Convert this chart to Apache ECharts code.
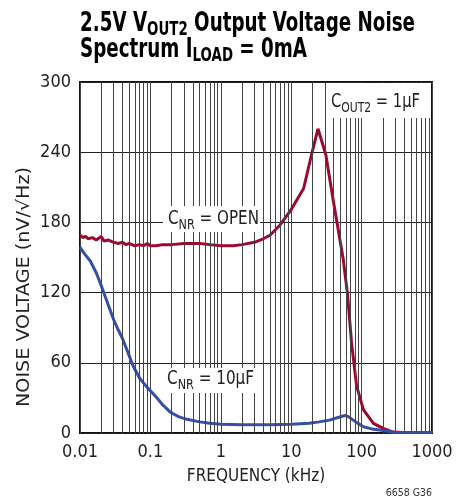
<!DOCTYPE html>
<html><head><meta charset="utf-8">
<script src="https://cdn.jsdelivr.net/npm/echarts@6/dist/echarts.min.js"></script>
<style>html,body{margin:0;padding:0;background:#fff}#c{width:467px;height:501px}</style>
</head><body><div id="c"></div>
<script>
// ---- data ----
const freqOpen = [0.01,0.011,0.012,0.013,0.015,0.017,0.02,0.022,0.025,0.03,0.035,0.04,0.045,0.05,0.06,0.07,0.08,0.09,0.1,0.12,0.15,0.2,0.3,0.5,0.7,1,1.5,2,3,4,5,7,10,15,20,24,31,40,55,63,72,85,106,147,203,280,400,1000];
const noiseOpen = [169,167,168,166,167,165,168,164,165,163,162,163,161,162,160,161,160,162,160,160,161,161,162,162,161,160,160,161,163,166,169,178,191,209,241,260,238,197,148,119,77,40,20,8.3,4,0.8,0.5,0.5];
const freq10u = [0.01,0.011,0.012,0.014,0.017,0.02,0.025,0.03,0.035,0.04,0.05,0.057,0.07,0.09,0.12,0.15,0.19,0.25,0.33,0.5,0.7,1,2,5,10,18,25,35,45,58,65,76,90,106,140,182,280,1000];
const noise10u = [159,155,152,147,137,126,110,97,88,81,66,57,47,39,31,24,18,14,11.7,9.5,8.3,7.5,7,7,7.4,8.3,9.5,11,13,15,14,11,8,5.4,3.5,2.6,0.6,0.5];
const xTickLabels = ['0.01','0.1','1','10','100','1000'];
const yTicks = [0,60,120,180,240,300];
const decades = [0.01,0.1,1,10,100];
const minorMult = [2,3,4,5,6,7,8,9];

const FONT = "'DejaVu Sans Condensed','DejaVu Sans',sans-serif";
const RED = '#9a0a30', BLUE = '#3650a8', GRID = '#444';

const ctx = document.createElement('canvas').getContext('2d');
function w(parts){ // parts: [text,size,bold]
  let s=0; parts.forEach(p=>{ctx.font=(p[2]?'bold ':'')+p[1]+'px '+FONT; s+=ctx.measureText(p[0]).width;}); return s;}

const minorLines = [];
decades.forEach(d => minorMult.forEach(m => minorLines.push({xAxis: +(d*m).toPrecision(6)})));

// title
const T=26, TS=19;
const tRich = {a:{fontFamily:FONT,fontWeight:'bold',fontSize:T,lineHeight:27,verticalAlign:'top'},
               s:{fontFamily:FONT,fontWeight:'bold',fontSize:TS,lineHeight:29,verticalAlign:'bottom'}};
const t1w = w([['2.5V V',T,1],['OUT2',TS,1],[' Output Voltage Noise',T,1]]);
const tScale = 335/t1w;
// annotations
const A=19, AS=14;
const aRich = {a:{fontFamily:FONT,fontSize:A,lineHeight:20,verticalAlign:'top'},
               s:{fontFamily:FONT,fontSize:AS,lineHeight:23,verticalAlign:'bottom'}};
function ann(x,y,main,sub,rest,target){
  const nat = w([[main,A],[sub,AS],[rest,A]]);
  return {type:'group',x:x,y:y,scaleX:target/nat,z:10,children:[{type:'text',x:0,y:0,z:10,style:{
    text:'{a|'+main+'}{s|'+sub+'}{a|'+rest+'}',rich:aRich,fill:'#222'}}]};
}
const YN='NOISE VOLTAGE (nV/√Hz)';
const ynScale = 240/w([[YN,17]]);

const chart = echarts.init(document.getElementById('c'), null, {renderer:'canvas'});
chart.setOption({
  animation:false,
  backgroundColor:'#fff',
  grid:{left:80,right:35,top:82,bottom:68,show:true,borderColor:'#111',borderWidth:2,backgroundColor:'transparent'},
  xAxis:{type:'log',logBase:10,min:0.01,max:1000,
    name:'FREQUENCY (kHz)',nameLocation:'middle',nameGap:35,
    nameTextStyle:{fontFamily:FONT,fontSize:17,color:'#222'},
    axisLine:{show:false},axisTick:{show:false},
    axisLabel:{fontFamily:FONT,fontSize:18,color:'#222',margin:10,
      formatter:v=>{const i=Math.round(Math.log10(v)+2);return xTickLabels[i]!==undefined?xTickLabels[i]:'';}},
    splitLine:{show:true,lineStyle:{color:GRID,width:1}}},
  yAxis:{type:'value',min:0,max:300,interval:60,
    axisLine:{show:false},axisTick:{show:false},
    axisLabel:{fontFamily:FONT,fontSize:18,color:'#222',margin:9,
      formatter:v=>yTicks.includes(v)?String(v):''},
    splitLine:{show:true,lineStyle:{color:'#222',width:1}}},
  series:[
    {type:'line',data:[],z:1,silent:true,
      markLine:{silent:true,symbol:['none','none'],label:{show:false},
        lineStyle:{color:GRID,width:1,type:'solid'},data:minorLines}},
    {type:'line',name:'open',data:freqOpen.map((f,i)=>[f,noiseOpen[i]]),showSymbol:false,z:3,
      lineStyle:{color:RED,width:3}},
    {type:'line',name:'10u',data:freq10u.map((f,i)=>[f,noise10u[i]]),showSymbol:false,z:3,
      lineStyle:{color:BLUE,width:3}}
  ],
  graphic:[
    {type:'group',x:80,y:11,scaleX:tScale,children:[{type:'text',x:0,y:0,style:{
      text:'{a|2.5V V}{s|OUT2}{a| Output Voltage Noise}',rich:tRich,fill:'#000'}}]},
    {type:'group',x:80,y:37,scaleX:tScale,children:[{type:'text',x:0,y:0,style:{
      text:'{a|Spectrum I}{s|LOAD}{a| = 0mA}',rich:tRich,fill:'#000'}}]},
    {type:'rect',shape:{x:327,y:83,width:103,height:35},style:{fill:'#fff'},z:9},
    {type:'rect',shape:{x:163,y:206,width:97,height:26},style:{fill:'#fff'},z:9},
    {type:'rect',shape:{x:163,y:368,width:94,height:25},style:{fill:'#fff'},z:9},
    ann(331,92.7,'C','OUT2',' = 1µF',89),
    ann(168,209.7,'C','NR',' = OPEN',91),
    ann(167,369.7,'C','NR',' = 10µF',87),
    {type:'group',x:25,y:287,rotation:Math.PI/2,scaleX:ynScale,children:[{type:'text',x:0,y:0,style:{
      text:YN,fontFamily:FONT,fontSize:17,fill:'#222',align:'center',verticalAlign:'middle'}}]},
    {type:'text',right:35,top:488,z:10,style:{text:'6658 G36',fontFamily:FONT,fontSize:10.5,fill:'#333'}}
  ]
});
</script></body></html>
